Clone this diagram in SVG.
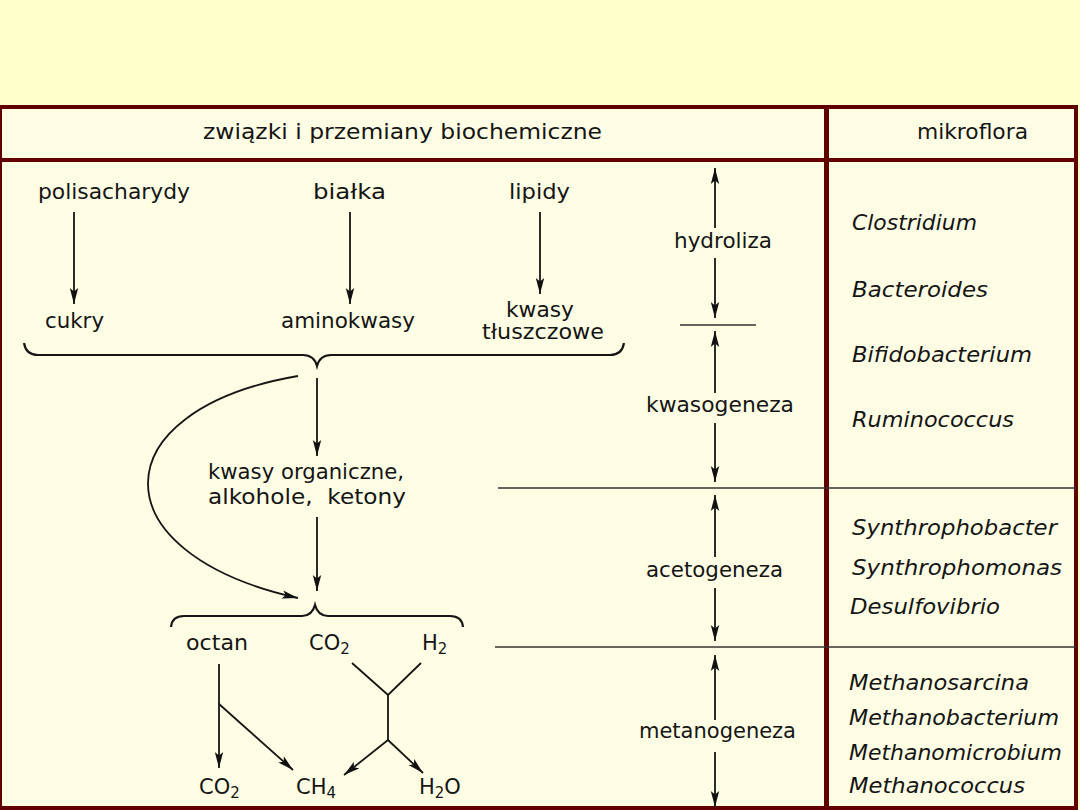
<svg xmlns="http://www.w3.org/2000/svg" width="1080" height="810" viewBox="0 0 1080 810">
<defs>
<marker id="ah" markerUnits="userSpaceOnUse" markerWidth="16" markerHeight="10" viewBox="0 0 16 10" refX="16" refY="5" orient="auto">
<path d="M0,0.8 L16,5 L0,9.2 L3.5,5 Z" fill="#111"/>
</marker>
</defs>
<style>
text{font-family:"DejaVu Sans","Liberation Sans",sans-serif;font-size:21px;fill:#151515}
.i{font-style:italic}
.sub{font-size:15px}
.ln{stroke:#151515;stroke-width:1.8;fill:none}
.ar{stroke:#151515;stroke-width:1.8;fill:none;marker-end:url(#ah)}
.br{stroke:#151515;stroke-width:2.2;fill:none}
.hl{stroke:#333;stroke-width:1.5}
.frame{stroke:#600000;fill:none}
</style>
<rect x="0" y="0" width="1080" height="810" fill="#FFFFCC"/>
<rect x="0" y="107" width="1076" height="701" fill="#FFFEE4"/>

<g id="table">
<rect class="frame" x="0" y="107" width="1076" height="701" stroke-width="4"/>
<line class="frame" x1="0" y1="160" x2="1076" y2="160" stroke-width="4"/>
<line class="frame" x1="826.5" y1="107" x2="826.5" y2="808" stroke-width="5"/>
<line class="hl" x1="498" y1="488" x2="1076" y2="488"/>
<line class="hl" x1="495" y1="647" x2="1076" y2="647"/>
<line class="hl" x1="680" y1="325" x2="756" y2="325"/>
</g>

<g id="headers">
<text x="203" y="139" textLength="399" lengthAdjust="spacingAndGlyphs">związki i przemiany biochemiczne</text>
<text x="917" y="139" textLength="111" lengthAdjust="spacingAndGlyphs">mikroflora</text>
</g>

<g id="connectors">
<line class="ar" x1="74" y1="212" x2="74" y2="304"/>
<line class="ar" x1="350" y1="212" x2="350" y2="304"/>
<line class="ar" x1="540" y1="212" x2="540" y2="294"/>
<path class="br" d="M24,343 Q26,355 38,355 L303,355 Q314,355 317,366 Q320,355 331,355 L610,355 Q622,355 624,343"/>
<line class="ar" x1="317" y1="378" x2="317" y2="456"/>
<path class="ar" d="M298,376 C100,410 96,553 298,598"/>
<line class="ar" x1="317" y1="517" x2="317" y2="591"/>
<path class="br" d="M171,627 Q172,616 184,616 L302,616 Q312,616 315,605 Q318,616 328,616 L450,616 Q462,616 463,627"/>
<line class="ar" x1="219" y1="664" x2="219" y2="768"/>
<line class="ar" x1="219" y1="704" x2="293" y2="770"/>
<polyline class="ln" points="352,663 388,695 421,663"/>
<line class="ln" x1="388" y1="695" x2="388" y2="740"/>
<line class="ar" x1="388" y1="740" x2="344" y2="775"/>
<line class="ar" x1="388" y1="740" x2="423" y2="773"/>
<line class="ar" x1="715" y1="228" x2="715" y2="168"/>
<line class="ar" x1="715" y1="258" x2="715" y2="318"/>
<line class="ar" x1="715" y1="393" x2="715" y2="331"/>
<line class="ar" x1="715" y1="423" x2="715" y2="482"/>
<line class="ar" x1="715" y1="557" x2="715" y2="495"/>
<line class="ar" x1="715" y1="588" x2="715" y2="641"/>
<line class="ar" x1="715" y1="720" x2="715" y2="655"/>
<line class="ar" x1="715" y1="752" x2="715" y2="807"/>
</g>

<g id="n-polisacharydy"><text x="38" y="199" textLength="152" lengthAdjust="spacingAndGlyphs">polisacharydy</text></g>
<g id="n-bialka"><text x="313" y="199" textLength="73" lengthAdjust="spacingAndGlyphs">białka</text></g>
<g id="n-lipidy"><text x="509" y="199" textLength="61" lengthAdjust="spacingAndGlyphs">lipidy</text></g>
<g id="n-cukry"><text x="45" y="328" textLength="59" lengthAdjust="spacingAndGlyphs">cukry</text></g>
<g id="n-aminokwasy"><text x="281" y="328" textLength="134" lengthAdjust="spacingAndGlyphs">aminokwasy</text></g>
<g id="n-kwasy-tl">
<text x="506" y="317" textLength="68" lengthAdjust="spacingAndGlyphs">kwasy</text>
<text x="482" y="339" textLength="122" lengthAdjust="spacingAndGlyphs">tłuszczowe</text>
</g>
<g id="n-kwasy-org">
<text x="208" y="479" textLength="196" lengthAdjust="spacingAndGlyphs">kwasy organiczne,</text>
<text x="208" y="504" textLength="198" lengthAdjust="spacingAndGlyphs" xml:space="preserve">alkohole,  ketony</text>
</g>
<g id="n-octan"><text x="186" y="650" textLength="62" lengthAdjust="spacingAndGlyphs">octan</text></g>
<g id="n-co2-top"><text x="309" y="650">CO<tspan class="sub" dy="4">2</tspan></text></g>
<g id="n-h2-top"><text x="422" y="650">H<tspan class="sub" dy="4">2</tspan></text></g>
<g id="n-co2-bot"><text x="199" y="794">CO<tspan class="sub" dy="4">2</tspan></text></g>
<g id="n-ch4"><text x="296" y="794">CH<tspan class="sub" dy="4">4</tspan></text></g>
<g id="n-h2o"><text x="419" y="794">H<tspan class="sub" dy="4">2</tspan><tspan dy="-4">O</tspan></text></g>

<g id="phase-hydroliza"><text x="674" y="248" textLength="98" lengthAdjust="spacingAndGlyphs">hydroliza</text></g>
<g id="phase-kwasogeneza"><text x="646" y="412" textLength="148" lengthAdjust="spacingAndGlyphs">kwasogeneza</text></g>
<g id="phase-acetogeneza"><text x="646" y="577" textLength="137" lengthAdjust="spacingAndGlyphs">acetogeneza</text></g>
<g id="phase-metanogeneza"><text x="639" y="738" textLength="157" lengthAdjust="spacingAndGlyphs">metanogeneza</text></g>

<g id="microflora">
<text class="i" x="852" y="230" textLength="125" lengthAdjust="spacingAndGlyphs">Clostridium</text>
<text class="i" x="852" y="297" textLength="136" lengthAdjust="spacingAndGlyphs">Bacteroides</text>
<text class="i" x="852" y="362" textLength="180" lengthAdjust="spacingAndGlyphs">Bifidobacterium</text>
<text class="i" x="852" y="427" textLength="162" lengthAdjust="spacingAndGlyphs">Ruminococcus</text>
<text class="i" x="852" y="535" textLength="205" lengthAdjust="spacingAndGlyphs">Synthrophobacter</text>
<text class="i" x="852" y="575" textLength="210" lengthAdjust="spacingAndGlyphs">Synthrophomonas</text>
<text class="i" x="850" y="614" textLength="150" lengthAdjust="spacingAndGlyphs">Desulfovibrio</text>
<text class="i" x="849" y="690" textLength="180" lengthAdjust="spacingAndGlyphs">Methanosarcina</text>
<text class="i" x="849" y="725" textLength="210" lengthAdjust="spacingAndGlyphs">Methanobacterium</text>
<text class="i" x="849" y="760" textLength="213" lengthAdjust="spacingAndGlyphs">Methanomicrobium</text>
<text class="i" x="849" y="793" textLength="176" lengthAdjust="spacingAndGlyphs">Methanococcus</text>
</g>
</svg>
